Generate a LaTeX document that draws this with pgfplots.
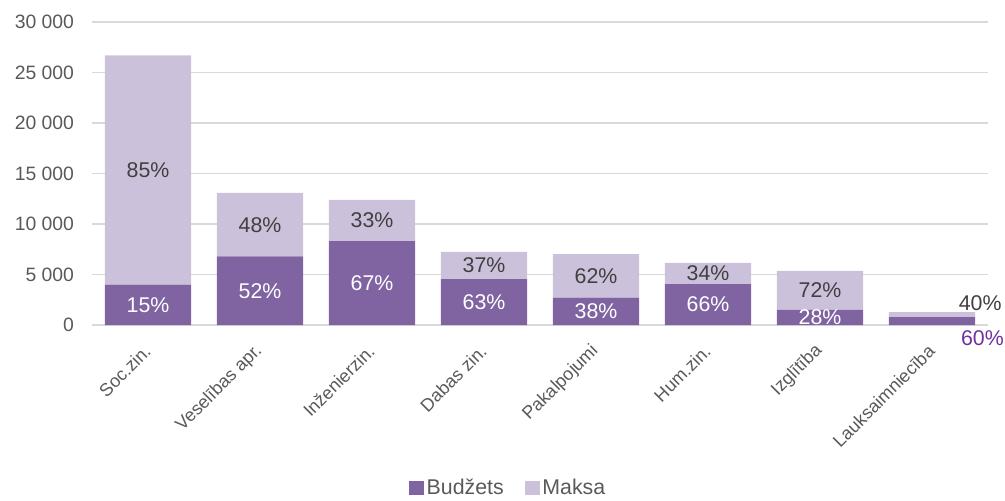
\documentclass[border=0pt]{standalone}
\usepackage{fontspec}
\setmainfont{Liberation Sans}
\usepackage{pgfplots}
\usepackage{pgfplotstable}
\pgfplotsset{compat=1.18}
\definecolor{budz}{HTML}{8064A2}
\definecolor{maksa}{HTML}{CCC1DA}
\definecolor{txtgray}{HTML}{595959}
\definecolor{lblgray}{HTML}{404040}
\definecolor{gridgray}{HTML}{D9D9D9}
\definecolor{violet}{HTML}{7030A0}

% budget / fee students, share of budget (pb) and fee (pm) in percent
\pgfplotstableread{
x b m pb pm
0 4000 22700 15 85
1 6800 6270 52 48
2 8300 4080 67 33
3 4550 2680 63 37
4 2700 4330 38 62
5 4050 2090 66 34
6 1500 3850 28 72
7 770 510 60 40
}\studdata

\begin{document}
\begin{tikzpicture}
\useasboundingbox (-69pt,-131.25pt) rectangle (684.75pt,243.75pt);
\pgfplotsset{
  common/.style={
    scale only axis,
    width=672pt, height=227.25pt,
    at={(0,0)}, anchor=south west,
    xmin=-0.5, xmax=7.5,
    ymin=0, ymax=30000,
  },
}
\begin{axis}[
    common,
    ybar stacked,
    bar width=0.77,
    axis x line*=bottom,
    axis y line*=left,
    y axis line style={draw=none},
    x axis line style={gridgray, line width=0.9pt},
    xtick={0,...,7},
    xticklabels={Soc.zin., Veselības apr., Inženierzin., Dabas zin., Pakalpojumi, Hum.zin., Izglītība, Lauksaimniecība},
    xticklabel style={font=\fontsize{13.5}{15}\selectfont, text=txtgray, xshift=2pt, yshift=-15pt, rotate=45, anchor=east},
    major tick length=0pt,
    ytick={0,5000,...,30000},
    scaled y ticks=false,
    ymajorgrids=true,
    major grid style={gridgray, line width=0.9pt},
    yticklabel style={font=\fontsize{14.5}{16}\selectfont, text=txtgray, xshift=-10pt},
    /pgf/number format/assume math mode=true,
    /pgf/number format/.cd, fixed, 1000 sep={\ }, /pgfplots/.cd,
    clip=false,
    legend style={
      at={(0.465,-0.538)}, anchor=center,
      draw=none, fill=none,
      font=\fontsize{16}{18}\selectfont,
      text=txtgray,
      legend columns=2,
      /tikz/every even column/.append style={column sep=14pt},
    },
    legend image code/.code={\fill[#1] (0pt,-5.5pt) rectangle (11pt,5.5pt);},
]
\addplot[fill=budz, draw=none] table[x=x, y=b] {\studdata};
\addplot[fill=maksa, draw=none] table[x=x, y=m] {\studdata};
\legend{Budžets, Maksa}
\end{axis}

\begin{axis}[
    common,
    hide axis,
    clip=false,
    every node near coord/.append style={anchor=center, font=\fontsize{16}{18}\selectfont, inner sep=0pt},
]
\addplot[draw=none, mark=none, restrict x to domain=0:6,
  nodes near coords={\pgfplotspointmeta\%}, point meta=explicit symbolic,
  every node near coord/.append style={text=white}]
  table[x=x, y expr=\thisrow{b}/2, meta=pb] {\studdata};
\addplot[draw=none, mark=none, restrict x to domain=0:6,
  nodes near coords={\pgfplotspointmeta\%}, point meta=explicit symbolic,
  every node near coord/.append style={text=lblgray}]
  table[x=x, y expr=\thisrow{b}+\thisrow{m}/2, meta=pm] {\studdata};
\addplot[draw=none, mark=none,
  nodes near coords={\pgfplotspointmeta\%}, point meta=explicit symbolic,
  every node near coord/.append style={text=lblgray}]
  table[x expr=\thisrow{x}+0.43, y expr=2180, meta=pm, restrict x to domain=7:8] {\studdata};
\addplot[draw=none, mark=none,
  nodes near coords={\pgfplotspointmeta\%}, point meta=explicit symbolic,
  every node near coord/.append style={text=violet}]
  table[x expr=\thisrow{x}+0.45, y expr=-1290, meta=pb, restrict x to domain=7:8] {\studdata};
\end{axis}
\end{tikzpicture}
\end{document}
